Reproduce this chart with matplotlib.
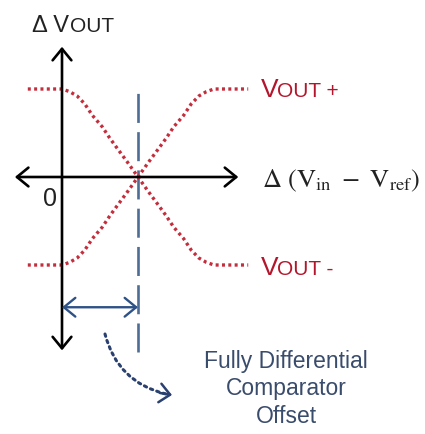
import matplotlib
matplotlib.use('Agg')
import matplotlib.pyplot as plt

plt.rcParams['font.family'] = ['Liberation Sans', 'DejaVu Sans']
plt.rcParams['mathtext.fontset'] = 'stix'

# transfer curves, x = delta(Vin - Vref) in units of the offset, y = normalised output
dvin = [-0.45, -0.15, 0.0, 0.1, 0.2, 0.3, 0.4, 0.53, 0.63, 0.74, 0.86, 1.0,
        1.14, 1.26, 1.37, 1.47, 1.6, 1.7, 1.8, 1.9, 2.0, 2.15, 2.45]
vout_minus = [1.0, 1.0, 1.0, 0.97, 0.92, 0.83, 0.7, 0.57, 0.44, 0.31, 0.17, 0.0,
              -0.17, -0.31, -0.44, -0.57, -0.7, -0.83, -0.92, -0.97, -1.0, -1.0, -1.0]
vout_plus = [-1.0, -1.0, -1.0, -0.97, -0.92, -0.83, -0.7, -0.57, -0.44, -0.31, -0.17, 0.0,
             0.17, 0.31, 0.44, 0.57, 0.7, 0.83, 0.92, 0.97, 1.0, 1.0, 1.0]
offset = 1.0
x_axis_range = (-0.62, 2.32)
y_axis_range = (-1.97, 1.48)
offset_line_range = (-1.99, 1.02)
offset_arrow_y = -1.48

RED = '#c42d3c'
RED_TXT = '#b3162c'
BLUE = '#2e5186'
BLUE_DASH = '#4d6d95'
BLUE_TXT = '#3a4c6c'

fig = plt.figure(figsize=(4.25, 4.34), dpi=100)
ax = fig.add_axes([0, 0, 1, 1])
# 76 px per x unit, 88 px per y unit, origin at pixel (62, 177)
ax.set_xlim(-62 / 76, (425 - 62) / 76)
ax.set_ylim((177 - 434) / 88, 177 / 88)
ax.axis('off')


def px(x, y):
    return ((x - 62) / 76, (177 - y) / 88)


# axes with arrows
head = '<->,head_length=0.55,head_width=0.45'
ax.annotate('', xy=(0, y_axis_range[0]), xytext=(0, y_axis_range[1]),
            arrowprops=dict(arrowstyle=head, lw=1.9, color='black',
                            mutation_scale=15, shrinkA=0, shrinkB=0))
ax.annotate('', xy=(x_axis_range[1], 0), xytext=(x_axis_range[0], 0),
            arrowprops=dict(arrowstyle=head, lw=1.9, color='black',
                            mutation_scale=15, shrinkA=0, shrinkB=0))

# offset line
ax.plot([offset, offset], offset_line_range, color=BLUE_DASH, lw=1.9,
        linestyle=(0, (11, 3.5)))

# output curves
for yv in (vout_plus, vout_minus):
    ax.plot(dvin, yv, color=RED, lw=2.4, linestyle=(0, (0.9, 1.0)),
            dash_capstyle='butt')

# offset arrow
ax.annotate('', xy=(offset, offset_arrow_y), xytext=(0, offset_arrow_y),
            arrowprops=dict(arrowstyle=head, lw=1.7, color=BLUE,
                            mutation_scale=15, shrinkA=0, shrinkB=0))

# curved dotted pointer
ax.annotate('', xy=px(166, 394), xytext=px(105, 334),
            arrowprops=dict(arrowstyle='-', lw=2.2, color='#2a4170',
                            linestyle=(0, (0.8, 1.4)), shrinkA=0, shrinkB=0,
                            connectionstyle='arc3,rad=0.3'))
ax.annotate('', xy=px(172, 395), xytext=px(160, 393),
            arrowprops=dict(arrowstyle='->,head_length=0.5,head_width=0.45',
                            lw=1.8, color='#2a4170', mutation_scale=15,
                            shrinkA=0, shrinkB=0))

# texts
ax.text(*px(32, 32), '\u0394 V', fontsize=17, color='#222222', va='baseline')
ax.text(*px(70, 32), 'OUT', fontsize=15, color='#222222', va='baseline')
ax.text(*px(50, 199), '0', fontsize=18, color='#222222', ha='center', va='center')

ax.text(*px(261, 97), 'V', fontsize=19, color=RED_TXT, va='baseline')
ax.text(*px(277, 97), 'OUT +', fontsize=15, color=RED_TXT, va='baseline')
ax.text(*px(261, 275), 'V', fontsize=19, color=RED_TXT, va='baseline')
ax.text(*px(277, 275), 'OUT -', fontsize=15, color=RED_TXT, va='baseline')

ax.text(*px(262, 181), r'$\Delta\ (\mathrm{V}_{\mathrm{in}}\ -\ \mathrm{V}_{\mathrm{ref}})$',
        fontsize=19, color='#222222', va='center')

ax.text(*px(286, 389), 'Fully Differential\nComparator\nOffset', fontsize=16.5,
        color=BLUE_TXT, ha='center', va='center', linespacing=1.25)

fig.savefig('out.png', dpi=100)
